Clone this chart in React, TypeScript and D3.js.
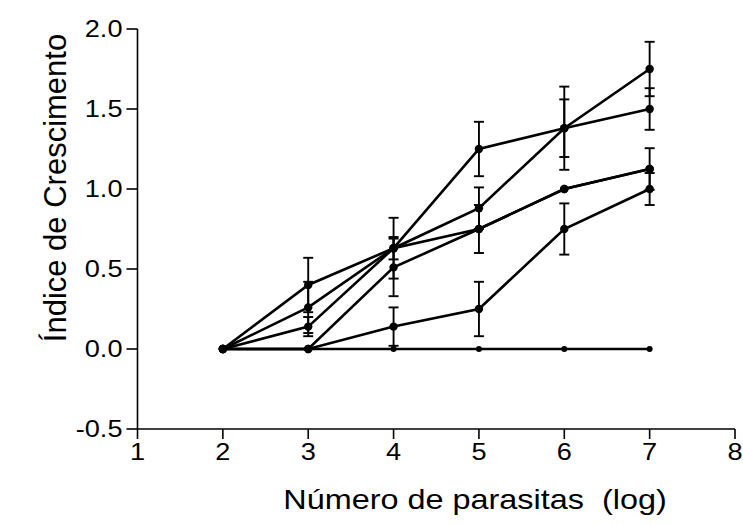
import React from "react";
import * as d3 from "d3";

const xValues = [2, 3, 4, 5, 6, 7];
const xTicks = [1, 2, 3, 4, 5, 6, 7, 8];
const yTicks = [-0.5, 0.0, 0.5, 1.0, 1.5, 2.0];

const seriesA = [0, 0.40, 0.63, 1.25, 1.38, 1.50];
const errA = [0, 0.17, 0.19, 0.17, 0.26, 0.13];
const seriesB = [0, 0.26, 0.63, 0.88, 1.38, 1.75];
const errB = [0, 0.16, 0.07, 0.13, 0.18, 0.17];
const seriesC = [0, 0.14, 0.63, 0.75, 1.0, 1.125];
const errC = [0, 0.06, 0, 0.15, 0, 0.13];
const seriesD = [0, 0, 0.51, 0.75, 1.0, 1.125];
const errD = [0, 0, 0.18, 0, 0, 0];
const seriesE = [0, 0, 0.14, 0.25, 0.75, 1.0];
const errE = [0, 0, 0.12, 0.17, 0.16, 0.1];
const seriesF = [0, 0, 0, 0, 0, 0];
const errF = [0, 0, 0, 0, 0, 0];

const allSeries = [
  { v: seriesA, e: errA },
  { v: seriesB, e: errB },
  { v: seriesC, e: errC },
  { v: seriesD, e: errD },
  { v: seriesE, e: errE },
  { v: seriesF, e: errF },
];

const fmt = (t: number) => d3.format(".1f")(t).replace("\u2212", "-");

export default function App() {
  const x = d3.scaleLinear().domain([1, 8]).range([137.5, 735]);
  const y = d3.scaleLinear().domain([-0.5, 2]).range([429, 29]);
  const line = d3
    .line<number>()
    .x((_, i) => x(xValues[i]))
    .y((d) => y(d));
  const font = "Liberation Sans, Arial, sans-serif";
  const lx = x(1) - 15;
  return (
    <svg
      width={743}
      height={525}
      style={{ position: "absolute", left: 0, top: 0, background: "#fff" }}
    >
      <rect width={743} height={525} fill="#fff" />
      <g stroke="#000" strokeWidth={1.6} fill="none">
        <line x1={x(1)} x2={x(1)} y1={y(2)} y2={y(-0.5)} />
        <line x1={x(1)} x2={x(8)} y1={y(-0.5)} y2={y(-0.5)} />
        {yTicks.map((t) => (
          <line key={"yt" + t} x1={x(1) - 11} x2={x(1)} y1={y(t)} y2={y(t)} />
        ))}
        {xTicks.map((t) => (
          <line key={"xt" + t} x1={x(t)} x2={x(t)} y1={y(-0.5)} y2={y(-0.5) + 10} />
        ))}
      </g>
      <g fontFamily={font} fontSize={23} fill="#000">
        {yTicks.map((t) => (
          <text
            key={"yl" + t}
            x={lx}
            y={y(t) + 8}
            textAnchor="end"
            transform={`translate(${lx},0) scale(1.18,1) translate(${-lx},0)`}
          >
            {fmt(t)}
          </text>
        ))}
        {xTicks.map((t) => (
          <text
            key={"xl" + t}
            x={x(t)}
            y={y(-0.5) + 31}
            textAnchor="middle"
            transform={`translate(${x(t)},0) scale(1.18,1) translate(${-x(t)},0)`}
          >
            {t}
          </text>
        ))}
      </g>
      <text
        x={475}
        y={509}
        textAnchor="middle"
        fontFamily={font}
        fontSize={27}
        style={{ whiteSpace: "pre" }}
        transform="translate(475,0) scale(1.2,1) translate(-475,0)"
      >
        {"Número de parasitas  (log)"}
      </text>
      <text
        transform="translate(66,188) rotate(-90)"
        textAnchor="middle"
        fontFamily={font}
        fontSize={31}
      >
        Índice de Crescimento
      </text>
      <g stroke="#000" strokeWidth={1.9}>
        {allSeries.map((s, si) =>
          s.v.map((v, i) =>
            s.e[i] > 0 ? (
              <g key={`e${si}-${i}`}>
                <line x1={x(xValues[i])} x2={x(xValues[i])} y1={y(v - s.e[i])} y2={y(v + s.e[i])} />
                <line x1={x(xValues[i]) - 5} x2={x(xValues[i]) + 5} y1={y(v + s.e[i])} y2={y(v + s.e[i])} />
                <line x1={x(xValues[i]) - 5} x2={x(xValues[i]) + 5} y1={y(v - s.e[i])} y2={y(v - s.e[i])} />
              </g>
            ) : null
          )
        )}
      </g>
      <g fill="none" stroke="#000" strokeWidth={2.6}>
        {allSeries.map((s, si) => (
          <path key={"l" + si} d={line(s.v) || ""} />
        ))}
      </g>
      <g fill="#000">
        {allSeries.map((s, si) =>
          s.v.map((v, i) => (
            <circle key={`p${si}-${i}`} cx={x(xValues[i])} cy={y(v)} r={si === 5 ? 3 : 4.2} />
          ))
        )}
      </g>
    </svg>
  );
}
